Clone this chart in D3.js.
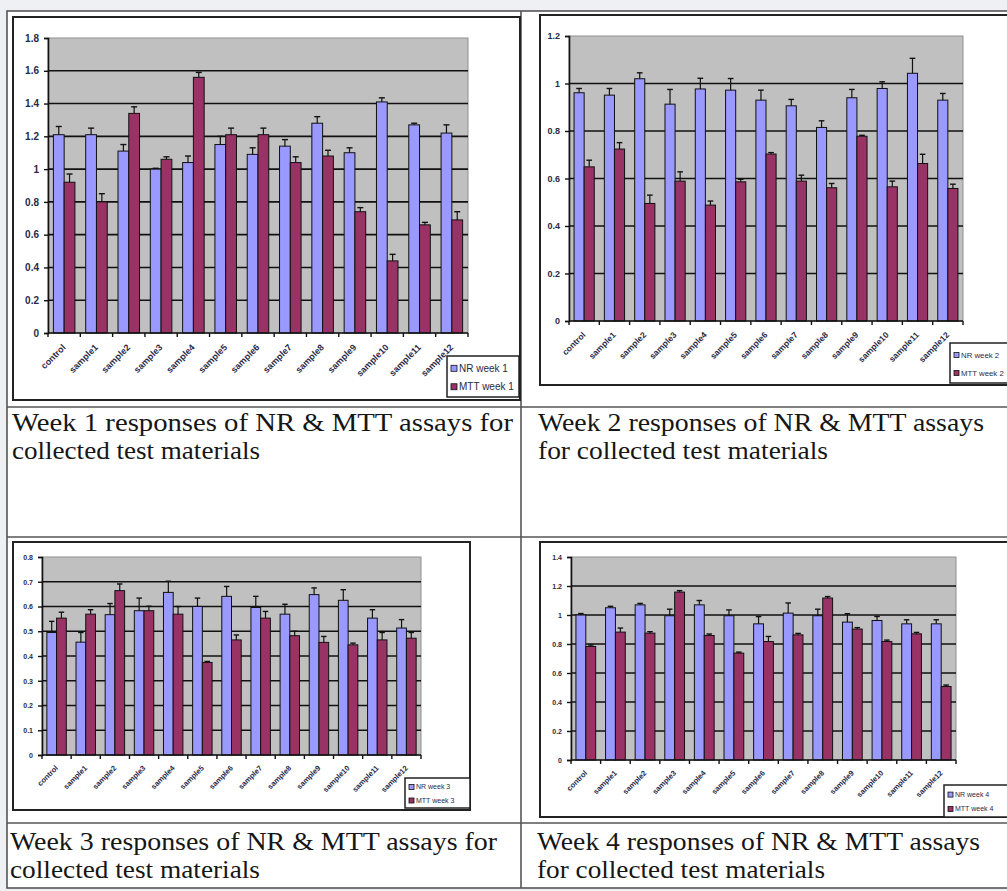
<!DOCTYPE html>
<html>
<head>
<meta charset="utf-8">
<script src="https://cdn.jsdelivr.net/npm/d3@7"></script>
<style>
  body { margin: 0; background: #eef0f3; }
  svg { display: block; }
</style>
</head>
<body>
<script>
// categories shared by the four weeks
var categories = ["control", "sample1", "sample2", "sample3", "sample4", "sample5", "sample6",
                  "sample7", "sample8", "sample9", "sample10", "sample11", "sample12"];

// week 1
var nrWeek1     = [1.21, 1.21, 1.11, 1.00, 1.04, 1.15, 1.09, 1.14, 1.28, 1.10, 1.41, 1.27, 1.22];
var nrWeek1Err  = [0.05, 0.04, 0.04, 0.005, 0.04, 0.05, 0.04, 0.04, 0.04, 0.03, 0.025, 0.01, 0.05];
var mttWeek1    = [0.92, 0.80, 1.34, 1.06, 1.56, 1.21, 1.21, 1.04, 1.08, 0.74, 0.44, 0.66, 0.69];
var mttWeek1Err = [0.05, 0.05, 0.04, 0.015, 0.03, 0.04, 0.04, 0.035, 0.035, 0.025, 0.04, 0.015, 0.05];

// week 2
var nrWeek2     = [0.961, 0.951, 1.02, 0.913, 0.977, 0.972, 0.93, 0.906, 0.815, 0.94, 0.979, 1.043, 0.93];
var nrWeek2Err  = [0.018, 0.028, 0.025, 0.062, 0.045, 0.049, 0.042, 0.027, 0.028, 0.035, 0.028, 0.063, 0.028];
var mttWeek2    = [0.649, 0.724, 0.495, 0.589, 0.488, 0.586, 0.703, 0.589, 0.561, 0.778, 0.565, 0.663, 0.558];
var mttWeek2Err = [0.028, 0.027, 0.035, 0.039, 0.017, 0.011, 0.006, 0.025, 0.018, 0.004, 0.024, 0.039, 0.018];

// week 3
var nrWeek3     = [0.495, 0.456, 0.567, 0.583, 0.657, 0.60, 0.641, 0.596, 0.569, 0.648, 0.625, 0.553, 0.513];
var nrWeek3Err  = [0.045, 0.039, 0.045, 0.051, 0.045, 0.034, 0.04, 0.045, 0.04, 0.027, 0.043, 0.034, 0.034];
var mttWeek3    = [0.553, 0.569, 0.664, 0.583, 0.569, 0.374, 0.465, 0.553, 0.482, 0.455, 0.445, 0.465, 0.472];
var mttWeek3Err = [0.024, 0.018, 0.027, 0.018, 0.031, 0.004, 0.02, 0.027, 0.018, 0.024, 0.007, 0.03, 0.023];

// week 4
var nrWeek4     = [1.00, 1.05, 1.07, 0.995, 1.07, 0.995, 0.939, 1.013, 0.995, 0.951, 0.962, 0.939, 0.939];
var nrWeek4Err  = [0.01, 0.01, 0.01, 0.045, 0.03, 0.04, 0.05, 0.07, 0.045, 0.058, 0.028, 0.028, 0.028];
var mttWeek4    = [0.783, 0.882, 0.875, 1.158, 0.859, 0.737, 0.817, 0.863, 1.117, 0.903, 0.817, 0.87, 0.507];
var mttWeek4Err = [0.01, 0.028, 0.01, 0.01, 0.01, 0.007, 0.035, 0.01, 0.01, 0.01, 0.01, 0.01, 0.01];

var captions = [
  ["Week 1 responses of NR & MTT assays for", "collected test materials"],
  ["Week 2 responses of NR & MTT assays", "for collected test materials"],
  ["Week 3 responses of NR & MTT assays for", "collected test materials"],
  ["Week 4 responses of NR & MTT assays", "for collected test materials"]
];

var nrColor = "#9999ff", mttColor = "#993366";

var svg = d3.select("body").append("svg")
    .attr("width", 1007)
    .attr("height", 891);

svg.append("rect").attr("width", 1007).attr("height", 891).attr("fill", "#eef0f3");

// table
var table = svg.append("g");
table.append("rect")
    .attr("x", 7).attr("y", 11).attr("width", 1010).attr("height", 877)
    .attr("fill", "#fff").attr("stroke", "#555").attr("stroke-width", 1.6);
table.append("line").attr("x1", 521).attr("x2", 521).attr("y1", 11).attr("y2", 888)
    .attr("stroke", "#555").attr("stroke-width", 1.6);
[407, 537, 823].forEach(function(y) {
  table.append("line").attr("x1", 7).attr("x2", 1010).attr("y1", y).attr("y2", y)
      .attr("stroke", "#555").attr("stroke-width", 1.6);
});

// panel layouts
var panels = [
  {frame: [13, 17, 507, 383], plot: [48, 38, 468, 333], max: 1.8, step: 0.2,
   nr: nrWeek1, nrErr: nrWeek1Err, mtt: mttWeek1, mttErr: mttWeek1Err,
   legend: [447, 356, 72, 41], week: 1, font: 10, xfont: 9, lfont: 10},
  {frame: [540, 15, 480, 370], plot: [569, 36, 963, 321], max: 1.2, step: 0.2,
   nr: nrWeek2, nrErr: nrWeek2Err, mtt: mttWeek2, mttErr: mttWeek2Err,
   legend: [950, 343, 70, 40], week: 2, font: 9, xfont: 8.5, lfont: 7.8},
  {frame: [13, 542, 457, 268], plot: [42, 557, 421, 755], max: 0.8, step: 0.1,
   nr: nrWeek3, nrErr: nrWeek3Err, mtt: mttWeek3, mttErr: mttWeek3Err,
   legend: [405, 778, 65, 30], week: 3, font: 7, xfont: 7.5, lfont: 7},
  {frame: [540, 542, 480, 275], plot: [571, 557, 956, 760], max: 1.4, step: 0.2,
   nr: nrWeek4, nrErr: nrWeek4Err, mtt: mttWeek4, mttErr: mttWeek4Err,
   legend: [944, 785, 70, 32], week: 4, font: 7, xfont: 7.5, lfont: 7}
];

panels.forEach(drawPanel);

function drawPanel(p) {
  var g = svg.append("g");
  var left = p.plot[0], top = p.plot[1], right = p.plot[2], bottom = p.plot[3];

  // chart frame
  g.append("rect")
      .attr("x", p.frame[0]).attr("y", p.frame[1])
      .attr("width", p.frame[2]).attr("height", p.frame[3])
      .attr("fill", "#fff").attr("stroke", "#222").attr("stroke-width", 2);

  var x = d3.scaleBand().domain(categories).range([left, right]);
  var xs = d3.scaleBand().domain(["NR", "MTT"])
      .range([x.bandwidth() / 6, x.bandwidth() * 5 / 6]);
  var y = d3.scaleLinear().domain([0, p.max]).range([bottom, top]);
  var ticks = d3.range(0, p.max + p.step / 2, p.step);

  // plot area
  g.append("rect")
      .attr("x", left).attr("y", top)
      .attr("width", right - left).attr("height", bottom - top)
      .attr("fill", "#c0c0c0").attr("stroke", "#909090").attr("stroke-width", 1);

  // gridlines
  g.selectAll(".grid").data(ticks.slice(1, -1)).enter().append("line")
      .attr("x1", left).attr("x2", right)
      .attr("y1", function(d) { return y(d); })
      .attr("y2", function(d) { return y(d); })
      .attr("stroke", "#111").attr("stroke-width", 1.6);

  // y axis
  var yAxis = g.append("g")
      .attr("transform", "translate(" + left + ",0)")
      .call(d3.axisLeft(y).tickValues(ticks).tickSize(4).tickPadding(5)
        .tickFormat(function(d) { return d3.format("~g")(+d.toFixed(2)); }));
  yAxis.select(".domain").attr("stroke", "#111").attr("stroke-width", 1.6);
  yAxis.selectAll(".tick line").attr("stroke", "#111").attr("stroke-width", 1.4);
  yAxis.selectAll("text")
      .attr("font-family", "Liberation Sans, Arial, sans-serif")
      .attr("font-size", p.font).attr("font-weight", "bold").attr("fill", "#2a2a48");

  var rows = categories.map(function(c, i) {
    return [{key: "NR", cat: c, v: p.nr[i], e: p.nrErr[i]},
            {key: "MTT", cat: c, v: p.mtt[i], e: p.mttErr[i]}];
  });
  var bars = d3.merge(rows);

  g.selectAll(".bar").data(bars).enter().append("rect")
      .attr("x", function(d) { return x(d.cat) + xs(d.key); })
      .attr("y", function(d) { return y(d.v); })
      .attr("width", xs.bandwidth())
      .attr("height", function(d) { return bottom - y(d.v); })
      .attr("fill", function(d) { return d.key == "NR" ? nrColor : mttColor; })
      .attr("stroke", "#111").attr("stroke-width", 1);

  // error bars, upper side only
  var cap = Math.max(2.5, xs.bandwidth() * 0.28);
  var err = g.selectAll(".err").data(bars).enter().append("g")
      .attr("transform", function(d) {
        return "translate(" + (x(d.cat) + xs(d.key) + xs.bandwidth() / 2) + ",0)";
      });
  err.append("line")
      .attr("y1", function(d) { return y(d.v); })
      .attr("y2", function(d) { return y(d.v + d.e); })
      .attr("stroke", "#111").attr("stroke-width", 1.2);
  err.append("line")
      .attr("x1", -cap).attr("x2", cap)
      .attr("y1", function(d) { return y(d.v + d.e); })
      .attr("y2", function(d) { return y(d.v + d.e); })
      .attr("stroke", "#111").attr("stroke-width", 1.4);

  // x axis
  g.append("line").attr("x1", left).attr("x2", right)
      .attr("y1", bottom).attr("y2", bottom)
      .attr("stroke", "#111").attr("stroke-width", 1.6);
  g.selectAll(".xtick").data(categories.concat(["end"])).enter().append("line")
      .attr("x1", function(d, i) { return left + i * x.step(); })
      .attr("x2", function(d, i) { return left + i * x.step(); })
      .attr("y1", bottom).attr("y2", bottom + 4)
      .attr("stroke", "#111").attr("stroke-width", 1.4);
  g.selectAll(".xlab").data(categories).enter().append("text")
      .attr("transform", function(d) {
        return "translate(" + (x(d) + x.bandwidth() / 2 + 2) + "," + (bottom + p.xfont + 6) + ") rotate(-45)";
      })
      .attr("text-anchor", "end")
      .attr("font-family", "Liberation Sans, Arial, sans-serif")
      .attr("font-size", p.xfont).attr("font-weight", "bold").attr("fill", "#2a2a48")
      .text(function(d) { return d; });

  // legend
  var L = p.legend;
  var lg = g.append("g");
  lg.append("rect")
      .attr("x", L[0]).attr("y", L[1]).attr("width", L[2]).attr("height", L[3])
      .attr("fill", "#fff").attr("stroke", "#222").attr("stroke-width", 1.5);
  var sw = Math.max(5, p.lfont * 0.6);
  [["NR week " + p.week, nrColor], ["MTT week " + p.week, mttColor]].forEach(function(item, i) {
    var cy = L[1] + L[3] * (i == 0 ? 0.3 : 0.75);
    lg.append("rect")
        .attr("x", L[0] + 4).attr("y", cy - sw / 2).attr("width", sw).attr("height", sw)
        .attr("fill", item[1]).attr("stroke", "#111").attr("stroke-width", 0.8);
    lg.append("text")
        .attr("x", L[0] + 6 + sw).attr("y", cy + p.lfont * 0.35)
        .attr("font-family", "Liberation Sans, Arial, sans-serif")
        .attr("font-size", p.lfont).attr("fill", "#2a2a48")
        .text(item[0]);
  });
}

// captions
var capPos = [
  {x: 12, y: 431, w: 501, w2: 248},
  {x: 538, y: 431, w: 446, w2: 290},
  {x: 10, y: 850, w: 487, w2: 250},
  {x: 537, y: 850, w: 443, w2: 288}
];
capPos.forEach(function(c, i) {
  svg.append("text")
      .attr("x", c.x).attr("y", c.y)
      .attr("font-family", "Liberation Serif, Times New Roman, serif")
      .attr("font-size", 25).attr("fill", "#161616")
      .attr("textLength", c.w).attr("lengthAdjust", "spacingAndGlyphs")
      .text(captions[i][0]);
  svg.append("text")
      .attr("x", c.x).attr("y", c.y + 28)
      .attr("font-family", "Liberation Serif, Times New Roman, serif")
      .attr("font-size", 25).attr("fill", "#161616")
      .attr("textLength", c.w2).attr("lengthAdjust", "spacingAndGlyphs")
      .text(captions[i][1]);
});
</script>
</body>
</html>
